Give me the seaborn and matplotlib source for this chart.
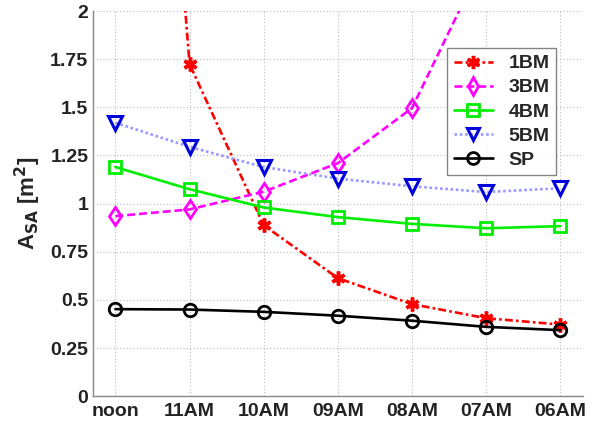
import matplotlib
matplotlib.use("Agg")
import matplotlib.pyplot as plt
import seaborn as sns
import pandas as pd
import numpy as np

# Time of day (from solar noon back to early morning)
times = ["noon", "11AM", "10AM", "09AM", "08AM", "07AM", "06AM"]

# Shaded area A_SA [m^2] for each configuration
bm1 = [6.6, 1.725, 0.888, 0.613, 0.478, 0.405, 0.372]
bm3 = [0.935, 0.97, 1.062, 1.21, 1.496, 2.29, 3.6]
bm4 = [1.19, 1.075, 0.98, 0.93, 0.895, 0.872, 0.883]
bm5 = [1.42, 1.295, 1.19, 1.13, 1.09, 1.06, 1.08]
sp = [0.452, 0.45, 0.438, 0.418, 0.392, 0.36, 0.343]

series_names = ["1BM", "3BM", "4BM", "5BM", "SP"]
series_values = [bm1, bm3, bm4, bm5, sp]

styles = {
    "1BM": dict(color="#ff0000", linestyle=(0, (3, 1.2, 1, 1.2)), marker=(6, 2, 0), mfc="#ff0000", mec="#ff0000", ms=10, mew=2.5),
    "3BM": dict(color="#ff00ff", linestyle=(0, (3, 1.5)), marker="d", mfc="none", mec="#ff00ff", ms=9.5, mew=2),
    "4BM": dict(color="#00ee00", linestyle="-", marker="s", mfc="none", mec="#00ee00", ms=8.5, mew=2),
    "5BM": dict(color="#9999ff", linestyle=(0, (1, 1)), marker="v", mfc="none", mec="#0000dd", ms=9.5, mew=2.2),
    "SP": dict(color="black", linestyle="-", marker="o", mfc="none", mec="black", ms=9, mew=2),
}

sns.set_style("white")
plt.rcParams["font.family"] = ["Liberation Sans", "DejaVu Sans"]
plt.rcParams["font.weight"] = "bold"

x = np.arange(1, len(times) + 1)
df = pd.concat(
    [pd.DataFrame({"x": x, "y": v, "series": n}) for n, v in zip(series_names, series_values)],
    ignore_index=True,
)

fig = plt.figure(figsize=(5.97, 4.26), dpi=100)
ax = fig.add_axes([0.156, 0.070, 0.821, 0.904])

for name in series_names:
    st = styles[name]
    sub = df[df["series"] == name]
    sns.lineplot(data=sub, x="x", y="y", ax=ax, color=st["color"], linestyle=st["linestyle"],
                 linewidth=1.9, marker=st["marker"], markerfacecolor=st["mfc"],
                 markeredgecolor=st["mec"], markersize=st["ms"], markeredgewidth=st["mew"],
                 label=name, sort=False)

ax.set_xlim(0.7, 7.31)
ax.set_ylim(0, 2)
ax.set_xticks(x)
ax.set_xticklabels(times)
ax.set_yticks([0, 0.25, 0.5, 0.75, 1, 1.25, 1.5, 1.75, 2])
ax.set_yticklabels(["0", "0.25", "0.5", "0.75", "1", "1.25", "1.5", "1.75", "2"])
ax.tick_params(axis="both", labelsize=14, direction="in", length=4, width=0.8, colors="#222222")
ax.tick_params(axis="x", pad=5)
for lab in ax.get_xticklabels() + ax.get_yticklabels():
    lab.set_fontweight("bold")
ax.grid(True, linestyle=(0, (1, 2)), color="#bbbbbb", linewidth=0.8)
for side in ["top", "right"]:
    ax.spines[side].set_visible(False)
for side in ["left", "bottom"]:
    ax.spines[side].set_color("#888888")
    ax.spines[side].set_linewidth(1.0)

ax.set_xlabel("")
ax.set_ylabel(r"A$_{\mathbf{SA}}$ [m$^{\mathbf{2}}$]", fontsize=16, fontweight="bold", labelpad=5)

leg = ax.legend(loc="upper left", bbox_to_anchor=(0.722, 0.904), borderaxespad=0, fontsize=14,
                frameon=True, fancybox=False, handlelength=2.0, borderpad=0.35, labelspacing=0.33,
                handletextpad=0.8, markerscale=0.95)
leg.get_frame().set_edgecolor("#666666")
leg.get_frame().set_linewidth(1.0)
for t in leg.get_texts():
    t.set_fontweight("bold")

fig.savefig("out.png", dpi=100)
